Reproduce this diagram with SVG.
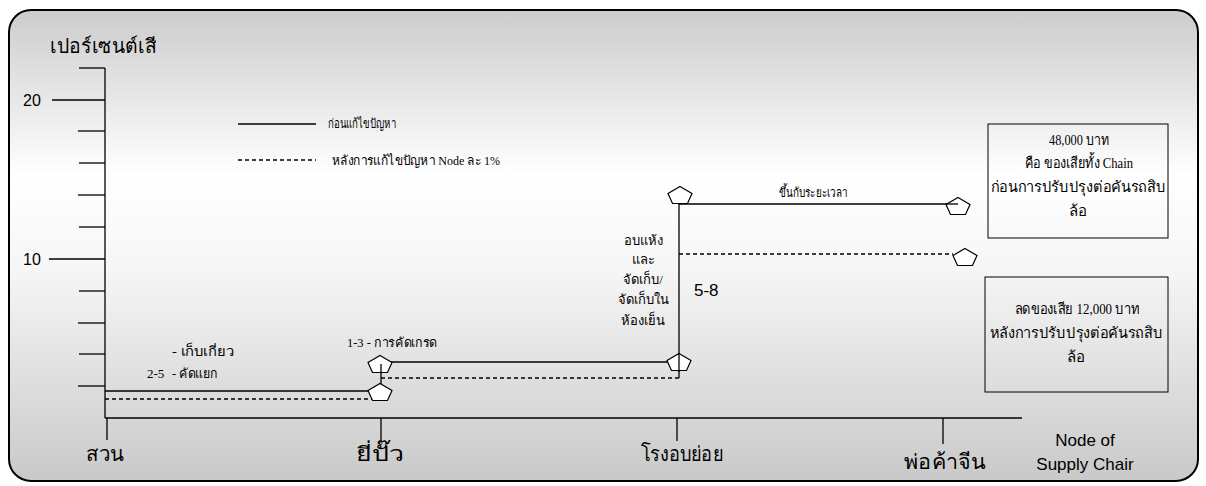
<svg xmlns="http://www.w3.org/2000/svg" width="1206" height="486" viewBox="0 0 1206 486">
<style>
.th{font-family:"Liberation Serif","Noto Sans",serif;fill:#000;font-weight:300}
.ar{font-family:"Liberation Sans",Arial,sans-serif;fill:#000}
.ax{stroke:#000;stroke-width:1.3;fill:none}
.tk{stroke:#000;stroke-width:1.3;fill:none}
.sol{stroke:#000;stroke-width:1.3;fill:none}
.dsh{stroke:#000;stroke-width:1.3;fill:none;stroke-dasharray:4 3}
.box{fill:none;stroke:#000;stroke-width:1}
.pent{fill:#fff;stroke:#000;stroke-width:1.2}
</style>
<defs>
<linearGradient id="bg" x1="0" y1="0" x2="0" y2="1">
<stop offset="0" stop-color="#cccccc"/>
<stop offset="0.35" stop-color="#ffffff"/>
<stop offset="0.55" stop-color="#f6f6f6"/>
<stop offset="1" stop-color="#c9c9c9"/>
</linearGradient>
<path id="pg" d="M0,-8.5 L12,-1.5 L7.5,8.5 L-7.5,8.5 L-12,-1.5 Z"/>
<clipPath id="c20"><rect x="0" y="80" width="41" height="40"/></clipPath>
<clipPath id="ctitle"><rect x="0" y="20" width="156" height="50"/></clipPath>
</defs>
<rect x="9" y="10" width="1189" height="471" rx="22" ry="22" fill="url(#bg)" stroke="#000" stroke-width="2"/>

<g id="axes">
<line class="ax" x1="105" y1="68" x2="105" y2="418"/>
<line class="ax" x1="105" y1="418" x2="1022" y2="418"/>
<line class="tk" x1="79" y1="68" x2="105" y2="68"/>
<line class="tk" x1="52" y1="100" x2="105" y2="100"/>
<line class="tk" x1="78" y1="131" x2="105" y2="131"/>
<line class="tk" x1="79" y1="163" x2="105" y2="163"/>
<line class="tk" x1="78" y1="195" x2="105" y2="195"/>
<line class="tk" x1="79" y1="227" x2="105" y2="227"/>
<line class="tk" x1="49" y1="259" x2="105" y2="259"/>
<line class="tk" x1="79" y1="291" x2="105" y2="291"/>
<line class="tk" x1="78" y1="323" x2="105" y2="323"/>
<line class="tk" x1="79" y1="354" x2="105" y2="354"/>
<line class="tk" x1="78" y1="386" x2="105" y2="386"/>
<line class="tk" x1="107" y1="418" x2="107" y2="440"/>
<line class="tk" x1="381" y1="418" x2="381" y2="442"/>
<line class="tk" x1="677" y1="418" x2="677" y2="441"/>
<line class="tk" x1="943" y1="418" x2="943" y2="444"/>
<text class="ar" x="23" y="106" font-size="16" clip-path="url(#c20)">20</text>
<text class="ar" x="23" y="265" font-size="16">10</text>
<text class="th" x="50" y="53" font-size="20" textLength="118" lengthAdjust="spacingAndGlyphs" clip-path="url(#ctitle)">เปอร์เซนต์เสีย</text>
<text class="th" x="86" y="461" font-size="21" textLength="38" lengthAdjust="spacingAndGlyphs">สวน</text>
<text class="th" x="356" y="461" font-size="20" textLength="48" lengthAdjust="spacingAndGlyphs">ยี่ปั๊ว</text>
<text class="th" x="641" y="461" font-size="21" textLength="82" lengthAdjust="spacingAndGlyphs">โรงอบย่อย</text>
<text class="th" x="904" y="469" font-size="21" textLength="81" lengthAdjust="spacingAndGlyphs">พ่อค้าจีน</text>
<text class="ar" x="1085" y="446" font-size="17" text-anchor="middle">Node of</text>
<text class="ar" x="1085" y="470" font-size="17" text-anchor="middle">Supply Chair</text>
</g>

<g id="legend">
<line class="sol" x1="238" y1="124" x2="316" y2="124"/>
<line class="dsh" x1="238" y1="160" x2="316" y2="160"/>
<text class="th" x="328" y="128" font-size="13" textLength="68" lengthAdjust="spacingAndGlyphs">ก่อนแก้ไขปัญหา</text>
<text class="th" x="332" y="165" font-size="13" textLength="168" lengthAdjust="spacingAndGlyphs">หลังการแก้ไขปัญหา Node ละ 1%</text>
</g>

<g id="connectors">
<line class="sol" x1="105" y1="391" x2="370" y2="391"/>
<line class="dsh" x1="105" y1="399" x2="372" y2="399"/>
<line class="sol" x1="381" y1="363" x2="381" y2="385"/>
<line class="sol" x1="391" y1="362" x2="668" y2="362"/>
<line class="dsh" x1="381" y1="378" x2="679" y2="378"/>
<line class="sol" x1="679" y1="204" x2="679" y2="378"/>
<line class="sol" x1="679" y1="204" x2="958" y2="204"/>
<line class="dsh" x1="679" y1="254" x2="953" y2="254"/>
</g>

<g id="node-yipua-low"><use href="#pg" class="pent" x="380" y="392"/></g>
<g id="node-yipua-high"><use href="#pg" class="pent" x="380" y="364"/><line class="sol" x1="381" y1="364" x2="381" y2="372"/></g>
<g id="node-oven-low"><use href="#pg" class="pent" x="679" y="362"/><line class="sol" x1="679" y1="354" x2="679" y2="372"/></g>
<g id="node-oven-high"><use href="#pg" class="pent" x="680" y="195"/></g>
<g id="node-merchant-before"><use href="#pg" class="pent" x="958" y="206"/><line class="sol" x1="946" y1="204" x2="958" y2="204"/></g>
<g id="node-merchant-after"><use href="#pg" class="pent" x="965" y="257"/></g>

<g id="labels">
<text class="th" x="172" y="356" font-size="13" textLength="62" lengthAdjust="spacingAndGlyphs">- เก็บเกี่ยว</text>
<text class="th" x="147" y="378" font-size="13">2-5</text>
<text class="th" x="172" y="378" font-size="13" textLength="46" lengthAdjust="spacingAndGlyphs">- คัดแยก</text>
<text class="th" x="347" y="347" font-size="13" textLength="90" lengthAdjust="spacingAndGlyphs">1-3 - การคัดเกรด</text>
<text class="th" x="779" y="197" font-size="13" textLength="68" lengthAdjust="spacingAndGlyphs">ขึ้นกับระยะเวลา</text>
<text class="th" x="643" y="245" font-size="13" text-anchor="middle">อบแห้ง</text>
<text class="th" x="643" y="264" font-size="13" text-anchor="middle">และ</text>
<text class="th" x="643" y="284" font-size="13" text-anchor="middle">จัดเก็บ/</text>
<text class="th" x="643" y="304" font-size="13" text-anchor="middle">จัดเก็บใน</text>
<text class="th" x="643" y="325" font-size="13" text-anchor="middle">ห้องเย็น</text>
<text class="ar" x="694" y="296" font-size="17">5-8</text>
</g>

<g id="box-before">
<rect class="box" x="988" y="124" width="180" height="114"/>
<text class="th" x="1079" y="145" font-size="15" text-anchor="middle" textLength="60" lengthAdjust="spacingAndGlyphs">48,000 บาท</text>
<text class="th" x="1079" y="168" font-size="15" text-anchor="middle" textLength="108" lengthAdjust="spacingAndGlyphs">คือ ของเสียทั้ง Chain</text>
<text class="th" x="1078" y="192" font-size="15" text-anchor="middle" textLength="175" lengthAdjust="spacingAndGlyphs">ก่อนการปรับปรุงต่อคันรถสิบ</text>
<text class="th" x="1078" y="216" font-size="15" text-anchor="middle">ล้อ</text>
</g>

<g id="box-after">
<rect class="box" x="985" y="277" width="183" height="115"/>
<text class="th" x="1077" y="314" font-size="15" text-anchor="middle" textLength="125" lengthAdjust="spacingAndGlyphs">ลดของเสีย 12,000 บาท</text>
<text class="th" x="1076" y="338" font-size="15" text-anchor="middle" textLength="173" lengthAdjust="spacingAndGlyphs">หลังการปรับปรุงต่อคันรถสิบ</text>
<text class="th" x="1076" y="362" font-size="15" text-anchor="middle">ล้อ</text>
</g>
</svg>
